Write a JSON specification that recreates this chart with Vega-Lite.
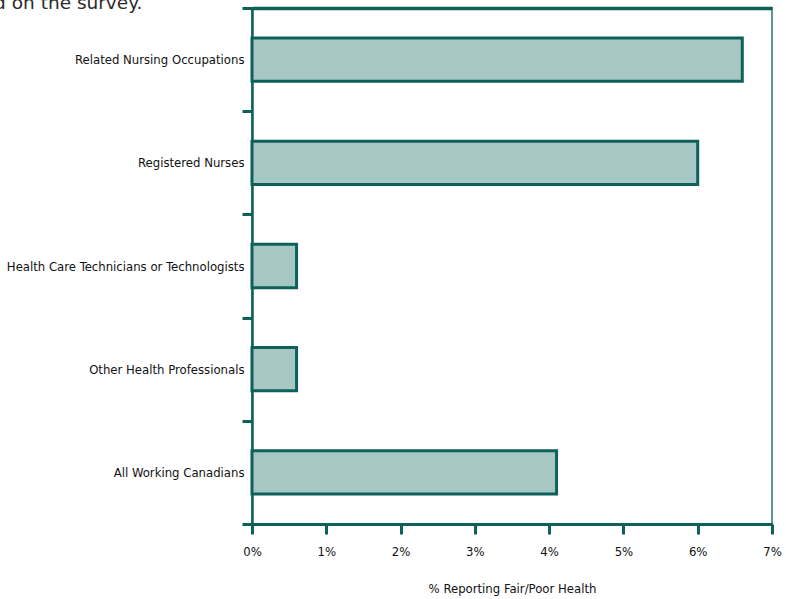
{
  "$schema": "https://vega.github.io/schema/vega-lite/v6.json",
  "autosize": "none",
  "width": 520,
  "height": 516,
  "padding": {"left": 252, "top": 8, "right": 14, "bottom": 75},
  "title": {
    "text": "based on the survey.",
    "anchor": "start",
    "frame": "group",
    "orient": "top",
    "baseline": "alphabetic",
    "dx": -302,
    "dy": 25,
    "offset": 0,
    "font": "DejaVu Sans",
    "fontSize": 18.5,
    "fontWeight": "normal",
    "color": "#2a2a2a"
  },
  "data": {
    "values": [
      {"occupation": "Related Nursing Occupations", "pct": 6.6},
      {"occupation": "Registered Nurses", "pct": 6.0},
      {"occupation": "Health Care Technicians or Technologists", "pct": 0.6},
      {"occupation": "Other Health Professionals", "pct": 0.6},
      {"occupation": "All Working Canadians", "pct": 4.1}
    ]
  },
  "config": {
    "view": {"stroke": "#5f9893", "strokeWidth": 2},
    "font": "DejaVu Sans Condensed",
    "axis": {
      "labelFont": "DejaVu Sans Condensed",
      "titleFont": "DejaVu Sans Condensed",
      "labelColor": "#111111",
      "titleColor": "#111111",
      "labelFontSize": 13,
      "titleFontSize": 13,
      "titleFontWeight": "normal",
      "labelLimit": 400,
      "domainColor": "#0e605a",
      "tickColor": "#0e605a",
      "grid": false
    }
  },
  "resolve": {"axis": {"x": "independent"}},
  "layer": [
    {
      "mark": {"type": "bar", "fill": "#a7c7c5", "stroke": "#0e605a", "strokeWidth": 3, "height": {"band": 0.42}},
      "encoding": {
        "y": {
          "field": "occupation",
          "type": "nominal",
          "sort": null,
          "scale": {"paddingInner": 0, "paddingOuter": 0},
          "axis": {
            "title": null,
            "tickBand": "extent",
            "tickSize": 10,
            "tickWidth": 3,
            "domainWidth": 2.5,
            "labelPadding": -2,
            "labelDy": -3
          }
        },
        "x": {
          "field": "pct",
          "type": "quantitative",
          "scale": {"domain": [0, 7], "nice": false},
          "axis": {
            "title": "% Reporting Fair/Poor Health",
            "values": [0, 1, 2, 3, 4, 5, 6, 7],
            "labelExpr": "datum.value + '%'",
            "tickSize": 10,
            "tickWidth": 3,
            "domainWidth": 3,
            "labelPadding": 11,
            "labelDx": 4,
            "titlePadding": 24,
            "labelFlush": false
          }
        }
      }
    },
    {
      "mark": {"type": "bar", "opacity": 0, "height": {"band": 0.42}},
      "encoding": {
        "y": {"field": "occupation", "type": "nominal", "sort": null},
        "x": {
          "field": "pct",
          "type": "quantitative",
          "axis": {
            "orient": "top",
            "title": null,
            "labels": false,
            "ticks": false,
            "domainWidth": 3.5
          }
        }
      }
    }
  ]
}
